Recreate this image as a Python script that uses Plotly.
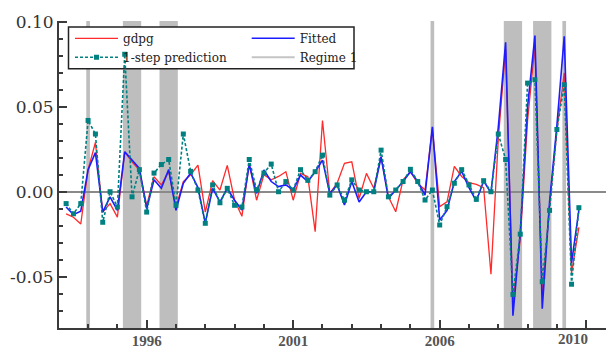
import plotly.graph_objects as go

# ---------------- data (quarterly, 1993Q2 .. 2010Q4) ----------------
START_YEAR, START_Q, N_OBS = 1993, 2, 71
PERIODS = []
_y, _q = START_YEAR, START_Q
for _ in range(N_OBS):
    PERIODS.append(f"{_y}Q{_q}")
    _q += 1
    if _q > 4:
        _q, _y = 1, _y + 1

GDPG = [
    -0.013, -0.015, -0.019, 0.013, 0.029, -0.012, -0.007, -0.015, 0.0235, 0.0176,
    0.0128, -0.008, 0.0088, 0.004, 0.012, -0.009, 0.006, 0.010, 0.0157, -0.012,
    0.0065, 0.001, 0.0155, -0.005, -0.0145, 0.0165, -0.005, 0.010, 0.007, 0.009,
    0.0118, -0.005, 0.0108, 0.0088, -0.0235, 0.042, -0.001, 0.005, 0.0167, 0.0176,
    -0.004, 0.0108, 0.002, 0.0206, -0.003, -0.0118, 0.007, 0.0118, 0.005, 0.001,
    0.0373, -0.0088, -0.006, 0.015, 0.009, 0.0053, 0.0043, 0.0024, -0.0486, 0.031,
    0.084, -0.065, -0.028, 0.042, 0.086, -0.060, -0.008, 0.036, 0.070, -0.048,
    -0.021,
]
FITTED = [
    -0.009, -0.0135, -0.0115, 0.013, 0.023, -0.012, -0.003, -0.011, 0.0235, 0.0186,
    0.0137, -0.010, 0.007, 0.002, 0.013, -0.011, 0.005, 0.011, 0.0025, -0.0185,
    0.002, -0.006, 0.002, -0.005, -0.0108, 0.016, -0.001, 0.0128, 0.006, 0.003,
    0.004, 0.001, 0.0098, 0.006, 0.0118, 0.0186, -0.001, 0.004, -0.0078, 0.006,
    -0.006, 0.000, 0.000, 0.0206, -0.004, 0.001, 0.006, 0.0118, 0.006, -0.002,
    0.0382, -0.0167, -0.011, 0.006, 0.012, 0.0024, -0.0055, 0.0063, -0.0006, 0.038,
    0.088, -0.073, -0.024, 0.050, 0.092, -0.069, -0.006, 0.039, 0.0916, -0.042,
    -0.011,
]
PREDICTION = [
    -0.007, -0.013, -0.007, 0.042, 0.034, -0.018, 0.000, -0.009, 0.081, -0.003,
    0.013, -0.012, 0.011, 0.016, 0.019, -0.008, 0.034, 0.012, 0.001, -0.0186,
    0.004, -0.0065, 0.002, -0.008, -0.009, 0.019, 0.001, 0.011, 0.0163, 0.000,
    0.006, 0.001, 0.013, 0.0067, 0.0118, 0.0216, -0.002, 0.004, -0.005, 0.007,
    0.001, 0.000, 0.000, 0.0245, -0.003, 0.001, 0.006, 0.0132, 0.006, -0.0049,
    0.001, -0.0196, -0.0088, 0.005, 0.013, 0.004, -0.0045, 0.0065, 0.000, 0.034,
    0.019, -0.0605, -0.025, 0.064, 0.066, -0.053, -0.011, 0.0367, 0.063, -0.0545,
    -0.0094,
]
# Regime 1 periods (first, last observation of each spell)
REGIME_START = ["1994Q1", "1995Q2", "1996Q3", "2005Q4", "2008Q2", "2009Q2", "2010Q2"]
REGIME_END = ["1994Q1", "1995Q4", "1997Q1", "2005Q4", "2008Q4", "2009Q4", "2010Q2"]

X_TICK_VALS = [1996, 2001, 2006, 2011]
X_TICK_TEXT = ["1996", "2001", "2006", ""]
X_EXTRA_LABEL = "2010"
X_EXTRA_LABEL_POS = 2010.55
Y_TICK_VALS = [-0.05, 0.0, 0.05, 0.10]
Y_TICK_TEXT = ["-0.05", "0.00", "0.05", "0.10"]


def to_year(p):
    y, q = p.split("Q")
    return int(y) + (int(q) - 1) / 4.0


X = [to_year(p) for p in PERIODS]

# ---------------- figure ----------------
W, H = 606, 349
ML, MR, MT, MB = 59, 0, 20.7, 20.7
XR = [1993.007, 2011.676]
YR = [-0.0803, 0.1006]
AX = "#3a3a3a"
XLAB_FONT = dict(family="Liberation Serif", size=15, color="#555555", weight="bold")

fig = go.Figure()
fig.add_trace(go.Scatter(x=X, y=GDPG, mode="lines", name="gdpg",
                         line=dict(color="#ff2a2a", width=1.3), legend="legend"))
fig.add_trace(go.Scatter(x=X, y=FITTED, mode="lines", name="Fitted",
                         line=dict(color="#1c1cff", width=1.6), legend="legend2"))
fig.add_trace(go.Scatter(x=X, y=PREDICTION, mode="lines+markers", name="1-step prediction",
                         line=dict(color="#008080", width=1.6, dash="3px,2px"),
                         marker=dict(symbol="square", size=5, color="#008080"),
                         legend="legend"))
fig.add_trace(go.Scatter(x=[None], y=[None], mode="lines", name="Regime 1",
                         line=dict(color="#c4c4c4", width=2), legend="legend2"))

half = 1 / 16.0
shapes = []
for s, e in zip(REGIME_START, REGIME_END):
    shapes.append(dict(type="rect", xref="x", yref="paper",
                       x0=to_year(s) - half, x1=to_year(e) + half, y0=0, y1=1,
                       fillcolor="#bebebe", line=dict(width=0), layer="below"))
# legend frame
pw = W - ML - MR
ph = H - MT - MB
def px_x(p):
    return (p - ML) / pw
def px_y(p):
    return (H - MB - p) / ph
shapes.append(dict(type="rect", xref="paper", yref="paper",
                   x0=px_x(68.5), x1=px_x(354), y0=px_y(68.5), y1=px_y(26.7),
                   fillcolor="white", line=dict(color="#222222", width=1.5), layer="below"))

legend_common = dict(bgcolor="rgba(0,0,0,0)", borderwidth=0, orientation="v",
                     xanchor="left", yanchor="top", itemwidth=43,
                     font=dict(family="DejaVu Serif", size=12, color="#222222"))

fig.update_layout(
    width=W, height=H, autosize=False,
    margin=dict(l=ML, r=MR, t=MT, b=MB, pad=0, autoexpand=False),
    paper_bgcolor="white", plot_bgcolor="white",
    showlegend=True,
    shapes=shapes,
    legend=dict(x=px_x(70), y=px_y(23.5), **legend_common),
    legend2=dict(x=px_x(246.7), y=px_y(23.5), **legend_common),
    annotations=[dict(text=X_EXTRA_LABEL, x=X_EXTRA_LABEL_POS, xref="x", y=0, yref="paper",
                      yanchor="top", xanchor="center", showarrow=False, yshift=-2,
                      borderpad=0, font=XLAB_FONT)],
)
fig.update_xaxes(
    range=XR, showgrid=False, zeroline=False, automargin=False,
    showline=True, linecolor=AX, linewidth=2,
    tickmode="array", tickvals=X_TICK_VALS, ticktext=X_TICK_TEXT,
    ticks="inside", ticklen=8, tickwidth=1.5, tickcolor=AX,
    ticklabelstandoff=-2,
    minor=dict(tickmode="linear", tick0=1994, dtick=1, ticks="inside",
               ticklen=4, tickwidth=1.5, tickcolor=AX),
    tickfont=XLAB_FONT,
)
fig.update_yaxes(
    range=YR, showgrid=False, automargin=False,
    zeroline=True, zerolinecolor="#8a8a8a", zerolinewidth=1.5,
    showline=True, linecolor=AX, linewidth=2,
    tickmode="array", tickvals=Y_TICK_VALS, ticktext=Y_TICK_TEXT,
    ticks="inside", ticklen=8, tickwidth=1.5, tickcolor=AX,
    minor=dict(tickmode="linear", tick0=0, dtick=0.01, ticks="inside",
               ticklen=4, tickwidth=1.5, tickcolor=AX),
    tickfont=dict(family="DejaVu Serif", size=17, color="#333333"),
)

fig.write_html(
    "out.html",
    config={"displayModeBar": False},
    post_script="document.body.style.margin='0';document.body.style.overflow='hidden';",
)
